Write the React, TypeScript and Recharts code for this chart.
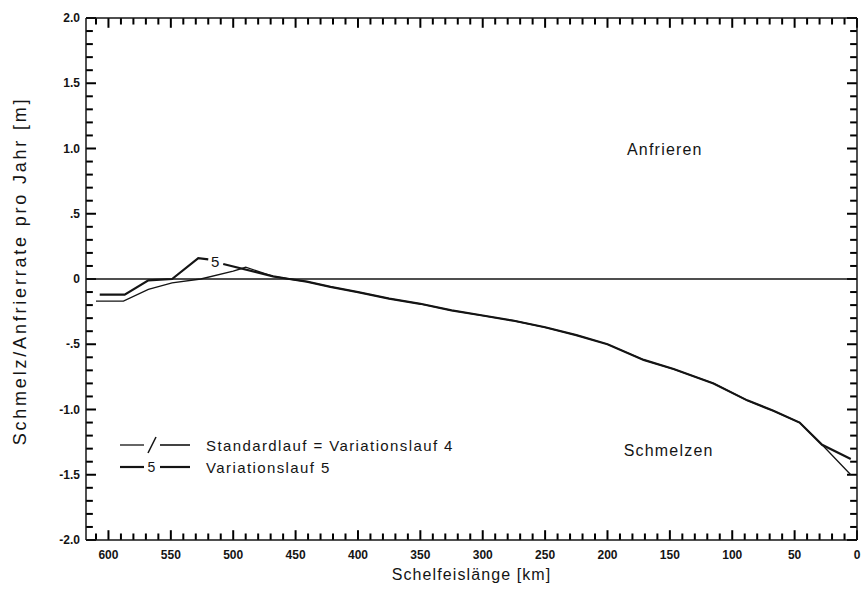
import React from 'react';
import { LineChart, Line, XAxis, YAxis, ReferenceLine, ReferenceDot } from 'recharts';

// Schelfeislänge (km) and melt/freeze rate (m/yr) per run
const stdKm = [610, 588, 568, 549, 526, 500, 490, 468, 455, 441, 422, 400, 375, 350, 325, 300, 275, 250, 225, 200, 171, 147, 115, 88, 67, 46, 28, 5];
const stdRate = [-0.17, -0.17, -0.08, -0.03, 0.0, 0.06, 0.09, 0.02, 0.0, -0.02, -0.06, -0.10, -0.15, -0.19, -0.24, -0.28, -0.32, -0.37, -0.43, -0.50, -0.62, -0.69, -0.80, -0.93, -1.01, -1.10, -1.27, -1.50];

const var5Km = [607, 587, 568, 549, 528, 520, 514, 508, 468, 455, 441, 422, 400, 375, 350, 325, 300, 275, 250, 225, 200, 171, 147, 115, 88, 67, 46, 28, 5];
const var5Rate = [-0.12, -0.12, -0.01, 0.0, 0.16, 0.15, null, 0.115, 0.02, 0.0, -0.02, -0.06, -0.10, -0.15, -0.19, -0.24, -0.28, -0.32, -0.37, -0.43, -0.50, -0.62, -0.69, -0.80, -0.93, -1.01, -1.10, -1.27, -1.38];

const xLabelTicks = [600, 550, 500, 450, 400, 350, 300, 250, 200, 150, 100, 50, 0];
const yTickValues = [2, 1.5, 1, 0.5, 0, -0.5, -1, -1.5, -2];
const yTickLabels = ['2.0', '1.5', '1.0', '.5', '0', '-.5', '-1.0', '-1.5', '-2.0'];

const stdData = stdKm.map((km, i) => ({ km, rate: stdRate[i] }));
const var5Data = var5Km.map((km, i) => ({ km, rate: var5Rate[i] }));

const X_MAX = 618;
const xTicks = Array.from({ length: 62 }, (_, i) => i * 10);
const yTicks = Array.from({ length: 41 }, (_, i) => (i - 20) / 10);

const INK = '#141414';
const TICK_FONT = "'Liberation Sans Narrow', 'Liberation Sans', Arial, sans-serif";
const TEXT_FONT = "'Liberation Sans', Arial, sans-serif";

const isMajorX = (v: number) => xLabelTicks.includes(v);
const isMajorY = (v: number) => Math.round(v * 10) % 5 === 0;

// inward tick lengths, in axis units
const xTickLen = (v: number) => (isMajorX(v) ? 0.075 : 0.05);
const yTickLen = (v: number) => (isMajorY(v) ? 8 : 5.5);

const BottomLabel = (props: any) => {
    const v = props.payload.value;
    if (!isMajorX(v)) return <g />;
    return (
        <text x={props.x} y={Number(props.y) + 19} textAnchor="middle" fontFamily={TICK_FONT} fontWeight="bold" fontSize={12} fill={INK}>{v}</text>
    );
};

const LeftLabel = (props: any) => {
    const v = props.payload.value;
    const idx = yTickValues.findIndex(t => Math.abs(t - v) < 1e-6);
    if (idx < 0) return <g />;
    return (
        <text x={Number(props.x) - 6} y={Number(props.y) + 4} textAnchor="end" fontFamily={TICK_FONT} fontWeight="bold" fontSize={12} fill={INK}>{yTickLabels[idx]}</text>
    );
};

const noteLabel = (value: string, size = 16) => ({
    value,
    position: 'center' as const,
    fill: INK,
    fontSize: size,
    fontFamily: TEXT_FONT,
    letterSpacing: 1.2,
});

const frame = { stroke: INK, strokeWidth: 1.5 };
const tickStroke = { stroke: '#000', strokeWidth: 2, ifOverflow: 'visible' as const };

export default function App() {
    return (
        <div style={{ position: 'absolute', left: 0, top: 0, width: 862, height: 598, background: '#fff' }}>
            <LineChart width={862} height={598} margin={{ top: 17, right: 4, bottom: 57, left: 85 }}>
                <XAxis dataKey="km" type="number" domain={[0, X_MAX]} reversed ticks={xTicks} interval={0}
                    height={1} tickSize={0} tickMargin={0} tick={BottomLabel} axisLine={frame} tickLine={false} />
                <XAxis xAxisId="top" orientation="top" dataKey="km" type="number" domain={[0, X_MAX]} reversed
                    height={1} tick={false} axisLine={frame} tickLine={false} />
                <YAxis type="number" domain={[-2, 2]} ticks={yTicks} interval={0} width={1} tickSize={0} tickMargin={0}
                    tick={LeftLabel} axisLine={frame} tickLine={false} />
                <YAxis yAxisId="right" orientation="right" type="number" domain={[-2, 2]} width={1}
                    tick={false} axisLine={frame} tickLine={false} />

                {/* minor/major tick marks on all four sides of the frame */}
                {xTicks.map(v => (
                    <ReferenceLine key={`b${v}`} segment={[{ x: v, y: -2 }, { x: v, y: -2 + xTickLen(v) }]} {...tickStroke} />
                ))}
                {xTicks.map(v => (
                    <ReferenceLine key={`t${v}`} segment={[{ x: v, y: 2 }, { x: v, y: 2 - xTickLen(v) }]} {...tickStroke} />
                ))}
                {yTicks.map(v => (
                    <ReferenceLine key={`l${v}`} segment={[{ x: X_MAX, y: v }, { x: X_MAX - yTickLen(v), y: v }]} {...tickStroke} />
                ))}
                {yTicks.map(v => (
                    <ReferenceLine key={`r${v}`} segment={[{ x: 0, y: v }, { x: yTickLen(v), y: v }]} {...tickStroke} />
                ))}

                <ReferenceLine y={0} stroke={INK} strokeWidth={1.4} />

                <Line data={stdData} dataKey="rate" type="linear" stroke={INK} strokeWidth={1.3} dot={false} isAnimationActive={false} />
                <Line data={var5Data} dataKey="rate" type="linear" stroke={INK} strokeWidth={2.2} dot={false} connectNulls={false} isAnimationActive={false} />

                <ReferenceDot x={514} y={0.135} r={0} stroke="none" label={noteLabel('5', 15)} />
                <ReferenceDot x={154} y={0.99} r={0} stroke="none" label={noteLabel('Anfrieren')} />
                <ReferenceDot x={151} y={-1.31} r={0} stroke="none" label={noteLabel('Schmelzen')} />
            </LineChart>

            {/* axis titles */}
            <div style={{ position: 'absolute', left: 0, top: 566, width: 943, textAlign: 'center', fontFamily: TEXT_FONT, fontSize: 16, letterSpacing: 1.1, color: INK }}>
                Schelfeislänge [km]
            </div>
            <div style={{ position: 'absolute', left: 20, top: 271, transform: 'translate(-50%, -50%) rotate(-90deg)', whiteSpace: 'nowrap', fontFamily: TEXT_FONT, fontSize: 18, letterSpacing: 2.8, color: INK }}>
                Schmelz/Anfrierrate pro Jahr [m]
            </div>

            {/* legend */}
            <div style={{ position: 'absolute', left: 118, top: 434, fontFamily: TEXT_FONT, fontSize: 15, letterSpacing: 1.4, color: INK }}>
                <div style={{ display: 'flex', alignItems: 'center', height: 22 }}>
                    <svg width={76} height={20}>
                        <line x1={2} x2={26} y1={10} y2={10} stroke={INK} strokeWidth={1.3} />
                        <line x1={30} x2={38} y1={18} y2={2} stroke={INK} strokeWidth={1.6} />
                        <line x1={42} x2={72} y1={10} y2={10} stroke={INK} strokeWidth={1.6} />
                    </svg>
                    <span style={{ marginLeft: 12 }}>Standardlauf = Variationslauf 4</span>
                </div>
                <div style={{ display: 'flex', alignItems: 'center', height: 22 }}>
                    <svg width={76} height={20}>
                        <line x1={2} x2={26} y1={10} y2={10} stroke={INK} strokeWidth={2.2} />
                        <text x={34} y={15} textAnchor="middle" fontFamily={TEXT_FONT} fontSize={14} fill={INK}>5</text>
                        <line x1={42} x2={72} y1={10} y2={10} stroke={INK} strokeWidth={2.2} />
                    </svg>
                    <span style={{ marginLeft: 12 }}>Variationslauf 5</span>
                </div>
            </div>
        </div>
    );
}
